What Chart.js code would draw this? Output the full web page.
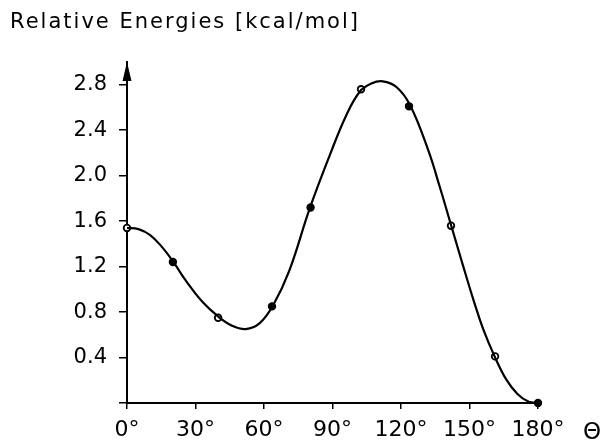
<!DOCTYPE html>
<html>
<head>
<meta charset="utf-8">
<script src="https://cdn.jsdelivr.net/npm/chart.js@4"></script>
<style>
  html, body { margin: 0; padding: 0; background: #fff; }
</style>
</head>
<body>
<canvas id="energyChart" width="605" height="445"></canvas>
<script>
// measured points (torsion angle in degrees, relative energy in kcal/mol)
const angles = [0, 20.1, 39.9, 63.5, 80.4, 102.5, 123.5, 141.9, 161.2, 180];
const energies = [1.54, 1.24, 0.75, 0.85, 1.72, 2.76, 2.61, 1.56, 0.41, 0];
const filledPoint = [false, true, false, true, true, false, true, false, false, true];

// fitted curve
const curveAngles = [0, 5, 10, 15, 20, 26, 33, 40, 46, 52, 58, 64, 71, 80, 89, 96, 102, 107, 112, 118, 124, 132, 137, 142, 147, 152, 156, 161, 166, 171, 176, 180];
const curveEnergies = [1.54, 1.53, 1.48, 1.38, 1.25, 1.07, 0.89, 0.76, 0.68, 0.65, 0.70, 0.86, 1.16, 1.71, 2.19, 2.53, 2.74, 2.81, 2.83, 2.78, 2.62, 2.22, 1.90, 1.56, 1.22, 0.89, 0.65, 0.41, 0.21, 0.08, 0.01, 0];

const xTicks = [0, 30, 60, 90, 120, 150, 180];
const yTicks = [0, 0.4, 0.8, 1.2, 1.6, 2.0, 2.4, 2.8];
const titleText = 'Relative Energies [kcal/mol]';
const xAxisSymbol = 'Θ';

const fontFamily = '"DejaVu Sans", sans-serif';

const decorations = {
    id: 'decorations',
    afterDraw(chart) {
        const ctx = chart.ctx;
        const area = chart.chartArea;
        const axisX = chart.scales.x.getPixelForValue(0);

        ctx.save();
        ctx.fillStyle = '#000';

        // arrow head on top of the energy axis
        ctx.beginPath();
        ctx.moveTo(axisX, area.top);
        ctx.lineTo(axisX - 4.5, area.top + 19);
        ctx.lineTo(axisX + 4.5, area.top + 19);
        ctx.closePath();
        ctx.fill();

        // title, spread out like the plotter lettering
        ctx.font = '21px ' + fontFamily;
        ctx.textAlign = 'left';
        ctx.textBaseline = 'alphabetic';
        const natural = ctx.measureText(titleText).width;
        ctx.letterSpacing = Math.max(0, (348 - natural) / (titleText.length - 1)) + 'px';
        ctx.fillText(titleText, 10, 28);
        ctx.letterSpacing = '0px';

        // axis symbol at the right end of the angle axis
        ctx.font = '23px ' + fontFamily;
        ctx.textAlign = 'center';
        ctx.textBaseline = 'middle';
        ctx.fillText(xAxisSymbol, area.right + 54, 433);
        ctx.restore();
    }
};

const ctx = document.getElementById('energyChart').getContext('2d');

const chart = new Chart(ctx, {
    type: 'scatter',
    data: {
        datasets: [{
            data: curveAngles.map((a, i) => ({ x: a, y: curveEnergies[i] })),
            showLine: true,
            borderColor: '#000',
            borderWidth: 2.2,
            pointRadius: 0,
            tension: 0.4,
            clip: false,
        }, {
            data: angles.map((a, i) => ({ x: a, y: energies[i] })),
            showLine: false,
            borderColor: '#000',
            pointBorderWidth: 1.8,
            pointRadius: 3.3,
            pointBackgroundColor: filledPoint.map(f => f ? '#000' : '#fff'),
            clip: false,
        }]
    },
    options: {
        responsive: false,
        animation: false,
        layout: { padding: { top: 62, right: 67, left: 0, bottom: 0 } },
        plugins: {
            legend: { display: false },
            tooltip: { enabled: false },
        },
        scales: {
            x: {
                type: 'linear',
                min: 0,
                max: 180,
                afterBuildTicks: s => { s.ticks = xTicks.map(v => ({ value: v })); },
                afterFit: s => { s.height = 42; },
                ticks: {
                    callback: v => v + '°',
                    color: '#000',
                    font: { family: fontFamily, size: 22 },
                    padding: 8,
                    maxRotation: 0,
                    autoSkip: false,
                },
                grid: { drawOnChartArea: false, drawTicks: true, tickLength: 6, color: '#000', lineWidth: 1.5 },
                border: { color: '#000', width: 2 },
            },
            y: {
                min: 0,
                max: 3.0,
                afterBuildTicks: s => { s.ticks = yTicks.map(v => ({ value: v })); },
                afterFit: s => { s.width = 127; },
                ticks: {
                    callback: v => v === 0 ? '' : v.toFixed(1),
                    color: '#000',
                    font: { family: fontFamily, size: 21 },
                    padding: 12,
                    autoSkip: false,
                },
                grid: { drawOnChartArea: false, drawTicks: true, tickLength: 8, color: '#000', lineWidth: 1.5 },
                border: { color: '#000', width: 2 },
            }
        }
    },
    plugins: [decorations]
});
</script>
</body>
</html>
